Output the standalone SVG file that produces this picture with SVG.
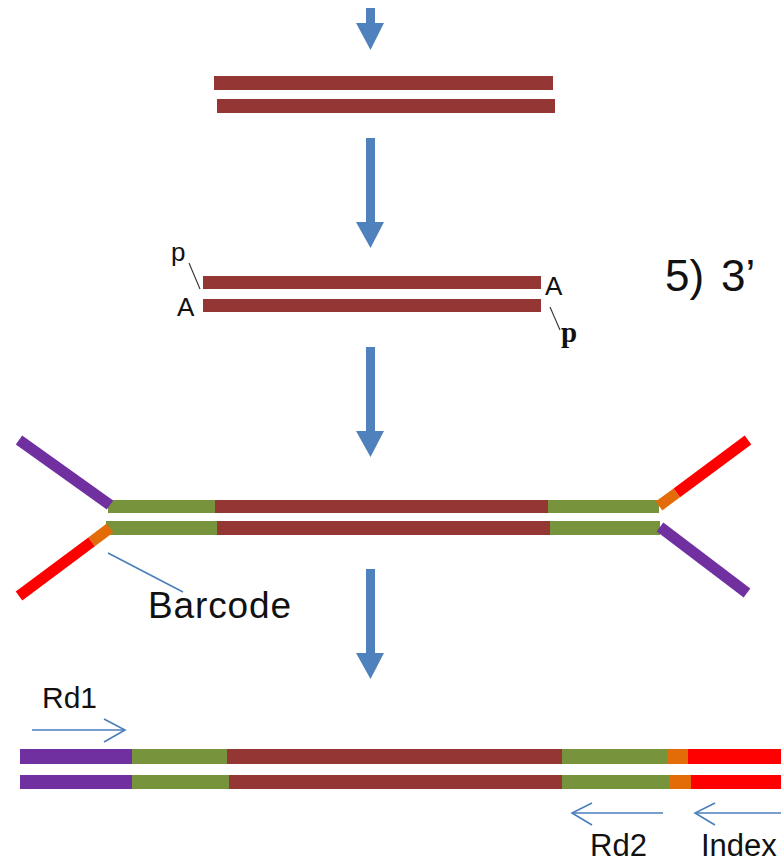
<svg xmlns="http://www.w3.org/2000/svg" width="781" height="862" viewBox="0 0 781 862">
  <style>
    .insert { fill: #943634; }
    .adapter-end { fill: #77933C; }
    .p5 { fill: #7030A0; }
    .idx { fill: #FF0000; }
    .bc { fill: #E36C09; }
    .arm { stroke-width: 11; stroke-linecap: butt; fill: none; }
    .flow { fill: #4F81BD; }
    .thin { stroke: #4A7EBB; stroke-width: 1.6; fill: none; }
    .lbl { font-family: "Liberation Sans", Arial, sans-serif; fill: #111; }
  </style>

  <!-- step flow arrows -->
  <g id="connectors">
    <path class="flow" d="M366,8 H375 V23 H384 L370.5,50 L356,23 H366 Z"/>
    <path class="flow" d="M366,138 H375 V222 H384 L370.5,248 L356,222 H366 Z"/>
    <path class="flow" d="M366,347 H375 V431 H384 L370.5,457 L356,431 H366 Z"/>
    <path class="flow" d="M366,569 H375 V653 H384 L370.5,679 L356,653 H366 Z"/>
  </g>

  <!-- blunt double-stranded fragment -->
  <g id="blunt-fragment">
    <rect class="insert" x="214" y="76" width="339" height="14"/>
    <rect class="insert" x="217" y="99" width="338" height="14"/>
  </g>

  <!-- A-tailed, phosphorylated fragment -->
  <g id="a-tailed-fragment">
    <rect class="insert" x="203" y="276" width="338" height="13"/>
    <rect class="insert" x="203" y="299" width="338" height="13"/>
    <text class="lbl" x="171" y="261" font-size="26">p</text>
    <line x1="189" y1="263" x2="200" y2="289" stroke="#333" stroke-width="1.1"/>
    <text class="lbl" x="177" y="316" font-size="26">A</text>
    <text class="lbl" x="545" y="295" font-size="26">A</text>
    <line x1="550" y1="307" x2="560" y2="330" stroke="#333" stroke-width="1.1"/>
    <text x="561" y="342" font-size="29" font-weight="bold" font-family="'Liberation Serif', 'Times New Roman', serif" fill="#111">p</text>
  </g>

  <!-- step label -->
  <g id="step-label">
    <text class="lbl" x="665" y="291" font-size="44">5)<tspan x="721">3’</tspan></text>
  </g>

  <!-- fragment with Y-shaped adapters ligated -->
  <g id="adapter-ligated">
    <rect class="adapter-end" x="108" y="500" width="107" height="13"/>
    <rect class="insert" x="215" y="500" width="333" height="13"/>
    <rect class="adapter-end" x="548" y="500" width="111" height="13"/>
    <rect class="adapter-end" x="106" y="521" width="111" height="14"/>
    <rect class="insert" x="217" y="521" width="333" height="14"/>
    <rect class="adapter-end" x="550" y="521" width="110" height="14"/>
    <!-- left arms -->
    <line class="arm" x1="110" y1="505" x2="19" y2="440" stroke="#7030A0"/>
    <line class="arm" x1="110" y1="528" x2="91.6" y2="541.8" stroke="#E36C09"/>
    <line class="arm" x1="91.6" y1="541.8" x2="19" y2="596" stroke="#FF0000"/>
    <!-- right arms -->
    <line class="arm" x1="659" y1="506" x2="676.8" y2="492.8" stroke="#E36C09"/>
    <line class="arm" x1="676.8" y1="492.8" x2="748" y2="440" stroke="#FF0000"/>
    <line class="arm" x1="660" y1="527" x2="747" y2="593" stroke="#7030A0"/>
  </g>

  <g id="barcode-callout">
    <line class="thin" x1="108" y1="553" x2="183" y2="592" stroke-width="1.2"/>
    <text class="lbl" x="148" y="618" font-size="37" textLength="143" lengthAdjust="spacing">Barcode</text>
  </g>

  <!-- amplified library molecule -->
  <g id="library-molecule">
    <rect class="p5" x="20" y="749" width="112" height="15"/>
    <rect class="adapter-end" x="132" y="749" width="95" height="15"/>
    <rect class="insert" x="227" y="749" width="335" height="15"/>
    <rect class="adapter-end" x="562" y="749" width="105" height="15"/>
    <rect class="bc" x="667" y="749" width="21" height="15"/>
    <rect class="idx" x="688" y="749" width="93" height="15"/>
    <rect class="p5" x="20" y="775" width="112" height="14"/>
    <rect class="adapter-end" x="132" y="775" width="97" height="14"/>
    <rect class="insert" x="229" y="775" width="333" height="14"/>
    <rect class="adapter-end" x="562" y="775" width="107" height="14"/>
    <rect class="bc" x="669" y="775" width="22" height="14"/>
    <rect class="idx" x="691" y="775" width="90" height="14"/>
  </g>

  <!-- sequencing primer reads -->
  <g id="read1">
    <line class="thin" x1="32" y1="730" x2="125" y2="730"/>
    <polyline class="thin" points="104,719 125,730 104,742"/>
    <text class="lbl" x="42" y="708" font-size="30">Rd1</text>
  </g>
  <g id="read2">
    <line class="thin" x1="572" y1="813" x2="663" y2="813"/>
    <polyline class="thin" points="592,803 572,813 592,825"/>
    <text class="lbl" x="590" y="856" font-size="31">Rd2</text>
  </g>
  <g id="index-read">
    <line class="thin" x1="695" y1="813" x2="781" y2="813"/>
    <polyline class="thin" points="715,803 695,813 715,825"/>
    <text class="lbl" x="701" y="856" font-size="31">Index</text>
  </g>
</svg>
